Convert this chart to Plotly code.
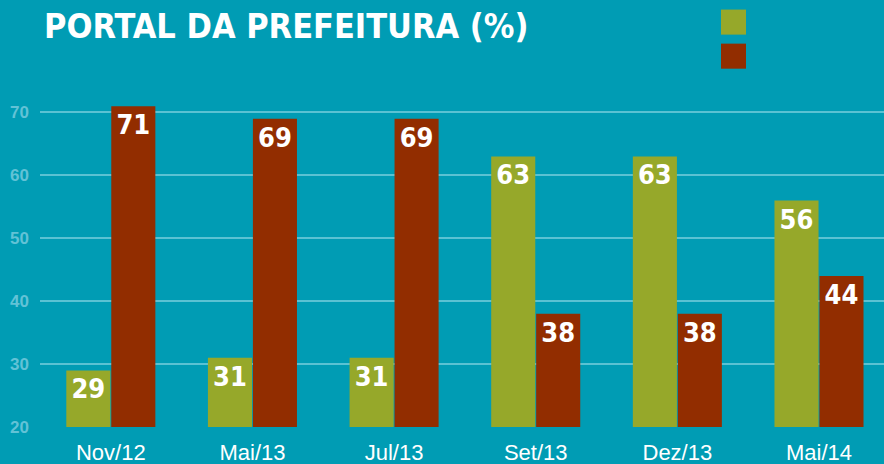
import plotly.graph_objects as go

categories = ["Nov/12", "Mai/13", "Jul/13", "Set/13", "Dez/13", "Mai/14"]
series_green = [29, 31, 31, 63, 63, 56]
series_red = [71, 69, 69, 38, 38, 44]
y_ticks = [20, 30, 40, 50, 60, 70]

BG = "#009cb4"
GREEN = "#96a82a"
RED = "#922d00"
W, H = 884, 464
COND = "DejaVu Sans Condensed, DejaVu Sans, sans-serif"

fig = go.Figure()
for vals, col in [(series_green, GREEN), (series_red, RED)]:
    fig.add_trace(go.Bar(
        x=categories, y=vals, marker=dict(color=col, line=dict(width=0)),
        text=[str(v) for v in vals], textposition="inside", insidetextanchor="end",
        textangle=0, cliponaxis=False,
        textfont=dict(family=COND, size=27, color="white", weight="bold"),
        showlegend=False, hoverinfo="x+y",
    ))

# legend squares (no labels in the reference)
PT, PH = 81.3, 345.4
for y0, col in [(10, GREEN), (44, RED)]:
    fig.add_shape(type="rect", xref="paper", yref="paper",
                  x0=(721 - 40) / (884 - 40), x1=(746 - 40) / (884 - 40),
                  y0=1 - (y0 + 25 - PT) / PH, y1=1 - (y0 - PT) / PH,
                  fillcolor=col, line=dict(width=0), layer="above")

fig.update_layout(
    width=W, height=H,
    paper_bgcolor=BG, plot_bgcolor=BG,
    margin=dict(l=40, r=0, t=PT, b=H - PT - PH, autoexpand=False),
    barmode="group", bargap=0.365, bargroupgap=0.02,
    title=dict(text="PORTAL DA PREFEITURA (%)", xref="container", yref="container",
               x=44 / W, xanchor="left", y=1 - 26 / H, yanchor="middle",
               font=dict(family=COND, size=34, color="white", weight="bold")),
    xaxis=dict(range=[-0.5, 5.459], showgrid=False, zeroline=False, showline=False,
               ticks="", tickfont=dict(family="Liberation Sans, Arial, sans-serif", size=22, color="white"),
               ticklabelstandoff=10, automargin=False),
    yaxis=dict(range=[20, 75], tickvals=y_ticks, showgrid=True,
               gridcolor="rgba(150,220,232,0.6)", gridwidth=2, zeroline=False, showline=False,
               ticks="", ticklabelstandoff=10, automargin=False,
               tickfont=dict(family="Liberation Sans, Arial, sans-serif", size=17,
                             color="#62c2d6", weight="bold")),
    showlegend=False,
)

fig.write_html("out.html", config={"displayModeBar": False},
               post_script="document.body.style.margin='0';document.body.style.background='%s';" % BG)
